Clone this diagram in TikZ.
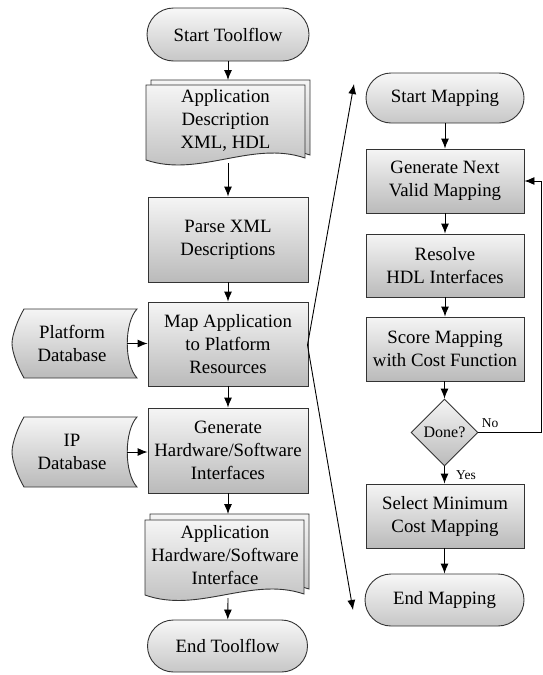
\documentclass[tikz,border=0pt]{standalone}
\usepackage{fontspec}
\setmainfont{Liberation Serif}
\usetikzlibrary{shapes.geometric,arrows.meta}
\tikzset{
  grad/.style={top color=black!4, bottom color=black!27},
  outl/.style={draw=black!80, line width=0.9pt},
  mainfont/.style={font=\fontsize{18.8}{23}\selectfont},
  box/.style={outl, grad, mainfont, inner sep=0pt, align=center},
  term/.style={box, top color=black!3, bottom color=black!22},
  shapefill/.style={outl, grad},
  txt/.style={mainfont, inner sep=0pt, align=center},
  arr/.style={-{Latex[length=10pt,width=8pt]}, line width=0.9pt, black},
  lbl/.style={font=\fontsize{13.5}{16}\selectfont, inner sep=0pt}
}
\begin{document}
\begin{tikzpicture}[x=1pt,y=-1pt]
\useasboundingbox (0,0) rectangle (543,675);

% ---------- left column ----------
\node[term, minimum width=162pt, minimum height=53pt, rounded corners=26.5pt] (start) at (228,34.5) {Start Toolflow};

% document 1
\path[shapefill] (151,80) -- (310,80) -- (310,155)
  .. controls (257,137) and (204,173) .. (151,155) -- cycle;
\path[shapefill] (146,85) -- (305,85) -- (305,158)
  .. controls (252,140) and (199,178) .. (146,160) -- cycle;
\node[txt] (doc1) at (225.5,120) {Application\\Description\\XML, HDL};
\coordinate (doc1in) at (228,80);
\coordinate (doc1out) at (228,163);

\node[box, minimum width=160pt, minimum height=85pt] (parse) at (228,239.5) {Parse XML\\Descriptions};
\node[box, minimum width=160pt, minimum height=84pt] (map) at (228,344) {Map Application\\to Platform\\Resources};
\node[box, minimum width=160pt, minimum height=85pt] (gen) at (228,450.5) {Generate\\Hardware/Software\\Interfaces};

% document 2
\path[shapefill] (150,514) -- (309,514) -- (309,589)
  .. controls (256,571) and (203,607) .. (150,589) -- cycle;
\path[shapefill] (145,520) -- (304,520) -- (304,594)
  .. controls (251,576) and (198,614) .. (145,595) -- cycle;
\node[txt] (doc2) at (225,555) {Application\\Hardware/Software\\Interface};
\coordinate (doc2in) at (228,514);
\coordinate (doc2out) at (228,598);

\node[term, minimum width=160pt, minimum height=52pt, rounded corners=26pt] (end) at (227.5,646) {End Toolflow};

% databases
\path[shapefill] (24,309) -- (137,309) .. controls (124,323) and (124,364) .. (137,378)
  -- (24,378) .. controls (18,368) and (12,352) .. (12,343.5)
  .. controls (12,335) and (18,319) .. (24,309) -- cycle;
\node[txt] (pdb) at (72,343.5) {Platform\\Database};
\coordinate (pdbout) at (127,343.5);

\path[shapefill] (24,417) -- (137,417) .. controls (124,431) and (124,473) .. (137,487)
  -- (24,487) .. controls (18,477) and (12,461) .. (12,452)
  .. controls (12,443) and (18,427) .. (24,417) -- cycle;
\node[txt] (ipdb) at (72,452) {IP\\Database};
\coordinate (ipdbout) at (127,452);

% left arrows
\draw[arr] (start) -- (doc1in);
\draw[arr] (doc1out) -- (parse);
\draw[arr] (parse) -- (map);
\draw[arr] (map) -- (gen);
\draw[arr] (gen.south -| doc2in) -- (doc2in);
\draw[arr] (doc2out) -- (end);
\draw[arr] (pdbout) -- (map.west |- pdbout);
\draw[arr] (ipdbout) -- (gen.west |- ipdbout);

% expansion lines
\coordinate (mapE) at (307.5,345);
\coordinate (expTop) at (354,84);
\coordinate (expBot) at (353,610);
\draw[arr] (mapE) -- (expTop);
\draw[arr] (mapE) -- (expBot);

% ---------- right column ----------
\node[term, minimum width=158pt, minimum height=50pt, rounded corners=25pt] (smap) at (445,98) {Start Mapping};
\node[box, minimum width=158pt, minimum height=64pt] (next) at (445,181) {Generate Next\\Valid Mapping};
\node[box, minimum width=158pt, minimum height=63pt] (resolve) at (445,265.5) {Resolve\\HDL Interfaces};
\node[box, minimum width=158pt, minimum height=64pt] (score) at (445,349) {Score Mapping\\with Cost Function};
\node[diamond, outl, grad, minimum width=67pt, minimum height=67pt, inner sep=0pt,
      font=\fontsize{16}{19}\selectfont] (done) at (444.5,432.5) {Done?};
\node[box, minimum width=158pt, minimum height=64pt] (select) at (445,516) {Select Minimum\\Cost Mapping};
\node[term, minimum width=159pt, minimum height=52pt, rounded corners=26pt] (emap) at (444.5,600) {End Mapping};

\draw[arr] (smap) -- (next);
\draw[arr] (next) -- (resolve);
\draw[arr] (resolve) -- (score);
\draw[arr] (score.south -| done) -- (done);
\draw[arr] (done) -- (select.north -| done);
\draw[arr] (select.south -| emap) -- (emap);

\coordinate (loopA) at (541,432.5);
\draw[arr] (done.east) -- (loopA) |- (next.east);
\node[lbl] (no) at (490,423) {No};
\node[lbl] (yes) at (466,475.5) {Yes};
\end{tikzpicture}
\end{document}
